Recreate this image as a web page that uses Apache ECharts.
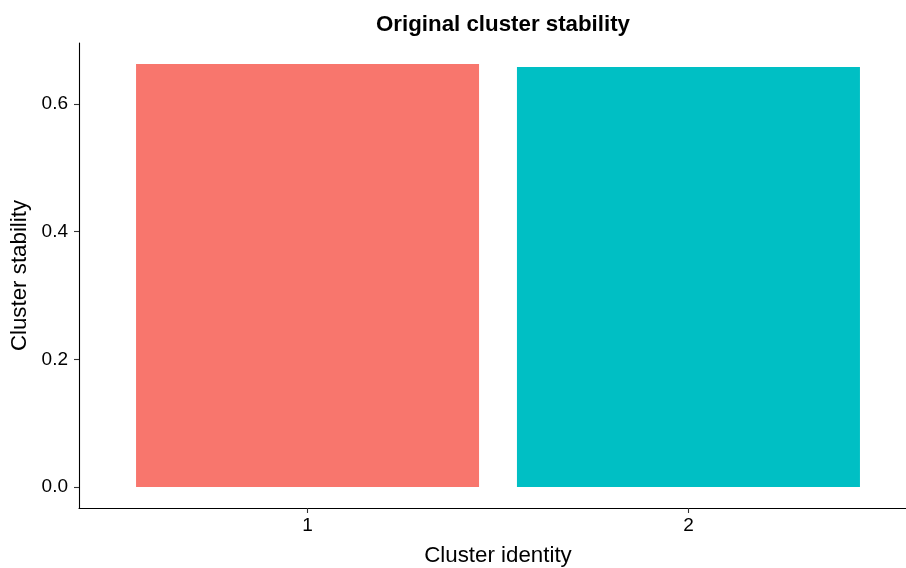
<!DOCTYPE html>
<html>
<head>
<meta charset="utf-8">
<script src="https://cdn.jsdelivr.net/npm/echarts@6/dist/echarts.min.js"></script>
<style>
html,body{margin:0;padding:0;background:#fff;}
#chart{width:906px;height:568px;}
</style>
</head>
<body>
<div id="chart"></div>
<script>
const categories = [1, 2];
const stability = [0.6627, 0.658];
const barColors = ['#F8766D', '#00BFC4'];
const yTicks = [0, 0.2, 0.4, 0.6];

const FONT = 'Liberation Sans';
const chart = echarts.init(document.getElementById('chart'));
chart.setOption({
  animation: false,
  backgroundColor: '#fff',
  title: {
    text: 'Original cluster stability',
    left: 498, top: 9, textAlign: 'center',
    textStyle: {fontFamily: FONT, fontWeight: 'bold', fontSize: 22.3, color: '#000'}
  },
  grid: {left: 79, top: 43, width: 838, height: 465, containLabel: false, outerBoundsMode: 'none'},
  xAxis: {
    type: 'value', min: 0.4, max: 2.6,
    name: 'Cluster identity', nameLocation: 'middle', nameGap: 37,
    nameTextStyle: {fontFamily: FONT, fontSize: 22.3, color: '#000'},
    axisLine: {onZero: false, lineStyle: {color: '#000', width: 1.1}},
    axisTick: {customValues: categories, length: 5, lineStyle: {color: '#333', width: 1.1}},
    axisLabel: {customValues: categories, margin: 8, fontFamily: FONT, fontSize: 19, color: '#000',
      formatter: v => String(v)},
    splitLine: {show: false}
  },
  yAxis: {
    type: 'value', min: -0.0331, max: 0.6958,
    name: 'Cluster stability', nameLocation: 'middle', nameGap: 44,
    nameTextStyle: {fontFamily: FONT, fontSize: 22.3, color: '#000'},
    axisLine: {show: true, onZero: false, lineStyle: {color: '#000', width: 1.1}},
    axisTick: {show: true, customValues: yTicks, length: 5, lineStyle: {color: '#333', width: 1.1}},
    axisLabel: {customValues: yTicks, margin: 11, fontFamily: FONT, fontSize: 19, color: '#000',
      formatter: v => v.toFixed(1)},
    splitLine: {show: false}
  },
  series: [{
    type: 'bar',
    barWidth: 343,
    data: categories.map((c, i) => ({value: [c, stability[i]], itemStyle: {color: barColors[i]}}))
  }]
});
</script>
</body>
</html>
